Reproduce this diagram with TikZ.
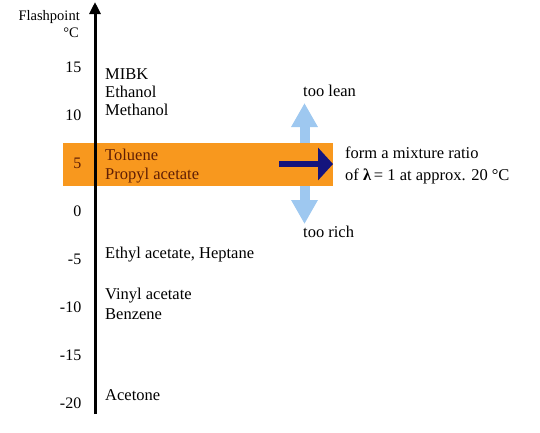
\documentclass[tikz,border=0pt]{standalone}
\usepackage{fontspec}
\setmainfont{Liberation Serif}
\usetikzlibrary{arrows.meta}
\definecolor{bandorange}{RGB}{248,152,30}
\definecolor{lightblue}{RGB}{158,200,240}
\definecolor{navyarrow}{RGB}{20,20,125}
\definecolor{bandtext}{RGB}{95,30,5}
\begin{document}
\begin{tikzpicture}[x=1pt,y=-1pt,
  lbl/.style={font=\fontsize{16.5}{19}\selectfont, inner sep=0pt, anchor=base west},
  tick/.style={font=\fontsize{16}{19}\selectfont, inner sep=0pt, anchor=base east},
  axislbl/.style={font=\fontsize{14.5}{17}\selectfont, inner sep=0pt, anchor=base east}]
\useasboundingbox[fill=white] (0,0) rectangle (540,432);
% light blue double arrow (behind band)
\coordinate (leantip) at (304.5,103);
\coordinate (richtip) at (304.5,224);
\draw[lightblue, line width=10pt, {Triangle[width=25pt,length=24pt]}-{Triangle[width=25pt,length=24pt]}] (leantip) -- (richtip);
% orange band
\fill[bandorange] (63,143) rectangle (333,186);
% axis
\coordinate (axbot) at (95,414);
\coordinate (axtop) at (95,2);
\draw[black, line width=3pt, -{Triangle[width=11pt,length=12pt]}] (axbot) -- (axtop);
% dark arrow
\coordinate (dstart) at (279,164);
\coordinate (dend) at (333,164);
\draw[navyarrow, line width=6pt, -{Triangle[width=32pt,length=15pt]}] (dstart) -- (dend);
% axis label
\node[axislbl] (fp) at (80,20) {Flashpoint};
\node[axislbl] (deg) at (79,37) {°C};
% ticks
\node[tick] (t15) at (81.5,72.5) {15};
\node[tick] (t10) at (81.5,120.5) {10};
\node[tick, text=bandtext] (t5) at (81.5,168.5) {5};
\node[tick] (t0) at (81.5,216.5) {0};
\node[tick] (tm5) at (81.5,264.5) {-5};
\node[tick] (tm10) at (81.5,312.5) {-10};
\node[tick] (tm15) at (81.5,360.5) {-15};
\node[tick] (tm20) at (81.5,408.5) {-20};
% substances
\node[lbl] (mibk) at (105,79) {MIBK};
\node[lbl] (ethanol) at (105,97) {Ethanol};
\node[lbl] (methanol) at (105,115) {Methanol};
\node[lbl, text=bandtext] (toluene) at (105,160) {Toluene};
\node[lbl, text=bandtext] (propyl) at (105,179) {Propyl acetate};
\node[lbl] (ethyl) at (105,258) {Ethyl acetate, Heptane};
\node[lbl] (vinyl) at (105,299) {Vinyl acetate};
\node[lbl] (benzene) at (105,319) {Benzene};
\node[lbl] (acetone) at (105,400) {Acetone};
% right texts
\node[lbl] (lean) at (303,96) {too lean};
\node[lbl] (rich) at (303,237) {too rich};
\node[lbl] (form1) at (345,158) {form a mixture ratio};
\node[lbl] (form2) at (345,180) {of \textbf{λ}\,= 1 at approx. 20 °C};
\end{tikzpicture}
\end{document}
